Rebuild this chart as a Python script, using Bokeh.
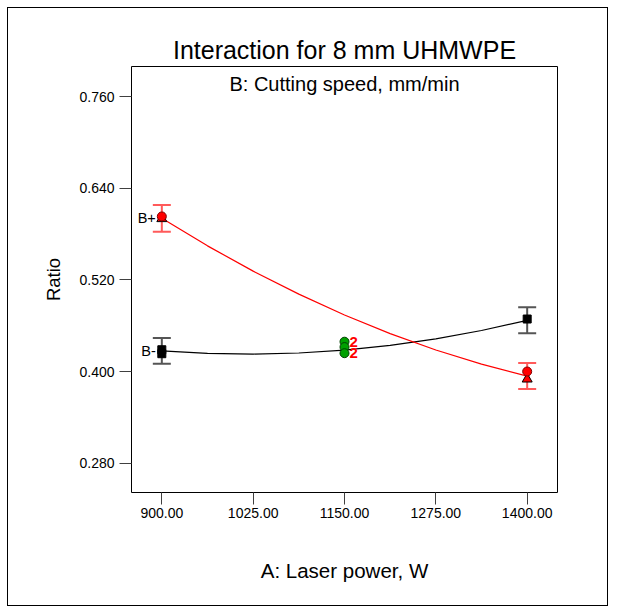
from bokeh.plotting import figure
from bokeh.models import ColumnDataSource, Whisker, TeeHead, Range1d, FixedTicker, NumeralTickFormatter, Label
from bokeh.core.properties import value
from bokeh.embed import file_html
from bokeh.resources import INLINE

FONT = "Liberation Sans"

# ---- data ----
title_text = "Interaction for 8 mm UHMWPE"
subtitle_text = "B: Cutting speed, mm/min"
x_label = "A: Laser power, W"
y_label = "Ratio"

x_ticks = [900, 1025, 1150, 1275, 1400]
y_ticks = [0.28, 0.40, 0.52, 0.64, 0.76]

# fitted curves
curve_x = [900, 962.5, 1025, 1087.5, 1150, 1212.5, 1275, 1337.5, 1400]
b_minus_curve = [0.427, 0.4237, 0.4228, 0.4242, 0.428, 0.4342, 0.4428, 0.4537, 0.467]
b_plus_curve = [0.6005, 0.5645, 0.5314, 0.5013, 0.474, 0.4496, 0.4282, 0.4096, 0.394]

# LSD bars
bar_x = [900, 1400]
b_plus_lower = [0.583, 0.377]
b_plus_upper = [0.618, 0.411]
b_minus_lower = [0.410, 0.450]
b_minus_upper = [0.444, 0.484]

# design points
b_plus_circle_x = [900, 1400]
b_plus_circle_y = [0.603, 0.400]
b_plus_tri_x = [900, 1400]
b_plus_tri_y = [0.600, 0.390]
b_minus_sq_x = [900, 900, 1400]
b_minus_sq_y = [0.4285, 0.4233, 0.4687]
center_x = [1150, 1150, 1150]
center_y = [0.439, 0.432, 0.424]
center_count = ["2", "", "2"]

series_names = ["B+", "B-"]
series_label_y = [0.6005, 0.427]

p = figure(width=601, height=599, output_backend="svg", toolbar_location=None,
           x_range=Range1d(858.5, 1441.5), y_range=Range1d(0.2416, 0.7993),
           min_border_left=123, min_border_right=52, min_border_top=58, min_border_bottom=115,
           margin=(7, 7, 7, 7), styles={"border": "1px solid black"})
p.background_fill_color = "white"
p.border_fill_color = "white"
p.outline_line_color = "black"
p.outline_line_width = 1
p.xgrid.visible = False
p.ygrid.visible = False

p.title.text = title_text
p.title.align = "center"
p.title.text_font = FONT
p.title.text_font_size = "25px"
p.title.text_font_style = "normal"
p.title.text_color = "black"
p.title.standoff = 5

for ax in (p.xaxis, p.yaxis):
    ax.axis_line_color = None
    ax.major_tick_in = 0
    ax.major_tick_out = 12
    ax.minor_tick_line_color = None
    ax.major_tick_line_color = "#404040"
    ax.major_label_text_font = FONT
    ax.major_label_text_font_size = "14px"
    ax.major_label_text_color = "black"
    ax.axis_label_text_font = FONT
    ax.axis_label_text_font_style = "normal"
    ax.axis_label_text_color = "black"

p.xaxis.ticker = FixedTicker(ticks=x_ticks)
p.yaxis.ticker = FixedTicker(ticks=y_ticks)
p.xaxis.formatter = NumeralTickFormatter(format="0.00")
p.yaxis.formatter = NumeralTickFormatter(format="0.000")
p.xaxis.major_label_standoff = 3
p.yaxis.major_label_standoff = 5
p.xaxis.axis_label = x_label
p.yaxis.axis_label = y_label
p.xaxis.axis_label_text_font_size = "20.5px"
p.yaxis.axis_label_text_font_size = "18.5px"
p.xaxis.axis_label_standoff = 38
p.yaxis.axis_label_standoff = 12

# subtitle inside frame
p.add_layout(Label(x=1150, y=0.7766, text=subtitle_text, text_align="center",
                   text_baseline="alphabetic", text_font=FONT,
                   text_font_size="20px", text_color="black"))

# curves
p.line(curve_x, b_minus_curve, line_color="black", line_width=1.2)
p.line(curve_x, b_plus_curve, line_color="red", line_width=1.2)

# error bars
src_p = ColumnDataSource(dict(x=bar_x, lo=b_plus_lower, hi=b_plus_upper))
src_m = ColumnDataSource(dict(x=bar_x, lo=b_minus_lower, hi=b_minus_upper))
p.add_layout(Whisker(source=src_p, base="x", lower="lo", upper="hi", dimension="height",
                     line_color="#ff5a5a", line_width=2,
                     upper_head=TeeHead(size=18, line_color="#ff5a5a", line_width=2),
                     lower_head=TeeHead(size=18, line_color="#ff5a5a", line_width=2)))
p.add_layout(Whisker(source=src_m, base="x", lower="lo", upper="hi", dimension="height",
                     line_color="#555555", line_width=2,
                     upper_head=TeeHead(size=18, line_color="#555555", line_width=2),
                     lower_head=TeeHead(size=18, line_color="#555555", line_width=2)))

# points
p.scatter(b_minus_sq_x, b_minus_sq_y, marker="square", size=8, fill_color="black", line_color="black")
p.scatter(b_plus_tri_x, b_plus_tri_y, marker="triangle", size=10, fill_color="red", line_color="black")
p.scatter(b_plus_circle_x, b_plus_circle_y, marker="circle", size=9, fill_color="red", line_color="#800000")
p.scatter(center_x, center_y, marker="circle", size=9, fill_color="#00a000", line_color="#004000")
p.text(center_x, center_y, text=center_count, x_offset=5, text_align="left", text_baseline="middle",
       text_font=value(FONT), text_font_size="15px", text_font_style="bold", text_color="red")

# series labels
p.text([900, 900], series_label_y, text=series_names, x_offset=-6, text_align="right",
       text_baseline="middle", text_font=value(FONT), text_font_size="14.5px", text_color="black")

open("out.html", "w").write(file_html(p, INLINE))
